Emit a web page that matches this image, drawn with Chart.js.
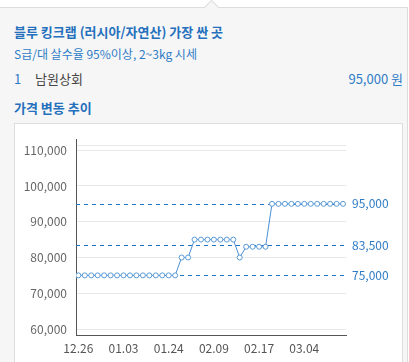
<!DOCTYPE html>
<html><head><meta charset="utf-8">
<script src="https://cdn.jsdelivr.net/npm/chart.js@4/dist/chart.umd.min.js"></script>
<style>
html,body{margin:0;padding:0;background:#fff;width:409px;height:362px;overflow:hidden;font-family:"Noto Sans CJK KR","Noto Sans",sans-serif;}
#card{position:absolute;left:0;top:7px;width:407px;height:360px;background:#f6f6f6;border-top:1px solid #dcdcdc;border-right:1px solid #dcdcdc;}
#notch{position:absolute;left:206px;top:2px;width:10px;height:10px;background:#f6f6f6;border-top:1px solid #dcdcdc;border-left:1px solid #dcdcdc;transform:rotate(45deg);}
.t{position:absolute;white-space:nowrap;line-height:1;}
#box{position:absolute;left:14px;top:123px;width:389px;height:260px;background:#fff;border:1px solid #dedede;box-sizing:border-box;}
canvas{position:absolute;left:14px;top:123px;}
</style></head><body>
<div id="card"></div><div id="notch"></div>
<div class="t" style="left:14px;top:25px;font-size:13px;font-weight:bold;color:#2470bd;">블루 킹크랩 (러시아/자연산) 가장 싼 곳</div>
<div class="t" style="left:14px;top:48px;font-size:12px;color:#2f7cc6;">S급/대 살수율 95%이상, 2~3kg 시세</div>
<div class="t" style="left:14px;top:72px;font-size:13px;color:#2f7cc6;">1</div>
<div class="t" style="left:35px;top:72px;font-size:13px;color:#444;">남원상회</div>
<div class="t" style="right:6px;top:72px;font-size:13px;color:#2f7cc6;">95,000 원</div>
<div class="t" style="left:14px;top:101px;font-size:13px;font-weight:bold;color:#2470bd;">가격 변동 추이</div>
<div id="box"></div>
<canvas id="c" width="390" height="239"></canvas>
<script>
const prices = [75000,75000,75000,75000,75000,75000,75000,75000,75000,75000,75000,75000,75000,75000,75000,75000,
  80000,80000,
  85000,85000,85000,85000,85000,85000,85000,
  80000,
  83000,83000,83000,83000,
  95000,95000,95000,95000,95000,95000,95000,95000,95000,95000,95000,95000];
const tickLabels = ['12.26','01.03','01.24','02.09','02.17','03.04'];
const tickIndex = [0,7,14,21,28,35];
const yTicks = [60000,70000,80000,90000,100000,110000];
const refValues = [95000,83500,75000];

const fmt = v => v.toLocaleString('en-US');
const blue = '#1f74c4';
const refLines = {
  id:'refLines',
  afterDatasetsDraw(chart){
    const {ctx, chartArea, scales} = chart;
    ctx.save();
    ctx.strokeStyle = blue; ctx.lineWidth = 1; ctx.setLineDash([4,4]);
    refValues.forEach(v=>{
      const y = Math.round(scales.y.getPixelForValue(v))+0.5;
      ctx.beginPath(); ctx.moveTo(chartArea.left, y); ctx.lineTo(chartArea.right, y); ctx.stroke();
    });
    ctx.restore();
  }
};
// draw dashed lines under the data line
refLines.beforeDatasetsDraw = refLines.afterDatasetsDraw; delete refLines.afterDatasetsDraw;

const font = {family:'"Noto Sans CJK KR","Noto Sans",sans-serif', size:12};
new Chart(document.getElementById('c'), {
  type:'line',
  data:{datasets:[{
    data: prices.map((p,i)=>({x:i,y:p})),
    borderColor:'#4a8fd3', borderWidth:1,
    pointRadius:2.5, pointBorderWidth:1, pointBackgroundColor:'#fff', pointBorderColor:'#5a9ad6',
    tension:0
  }]},
  options:{
    responsive:false, animation:false, devicePixelRatio:1,
    layout:{padding:{top:16,left:0,right:0,bottom:0}},
    plugins:{legend:{display:false}, tooltip:{enabled:false}},
    scales:{
      x:{type:'linear', min:-0.36, max:41.46,
        grid:{display:false, drawTicks:false}, border:{color:'#555'},
        afterBuildTicks: s=>{ s.ticks = tickIndex.map(v=>({value:v})); },
        afterFit: s=>{ s.height = 27; },
        ticks:{autoSkip:false, maxRotation:0, padding:6, color:'#555', font,
          callback: v => { const k = tickIndex.indexOf(v); return k>=0 ? tickLabels[k] : ''; }}
      },
      y:{type:'linear', position:'left', min:58330, max:113070,
        grid:{color:'#e8e8e8', drawTicks:false}, border:{color:'#555'},
        afterBuildTicks: s=>{ s.ticks = yTicks.concat([111400]).map(v=>({value:v})); },
        afterFit: s=>{ s.width = 62; },
        ticks:{padding:9, color:'#666', font, callback: v => yTicks.includes(v) ? fmt(v) : ''}
      },
      y2:{type:'linear', position:'right', min:58330, max:113070,
        grid:{display:false, drawTicks:false}, border:{display:false},
        afterBuildTicks: s=>{ s.ticks = refValues.map(v=>({value:v})); },
        afterFit: s=>{ s.width = 58; },
        ticks:{padding:6, color:'#2f7cc6', font, callback: v => fmt(v)}
      }
    }
  },
  plugins:[refLines]
});
</script>
</body></html>
